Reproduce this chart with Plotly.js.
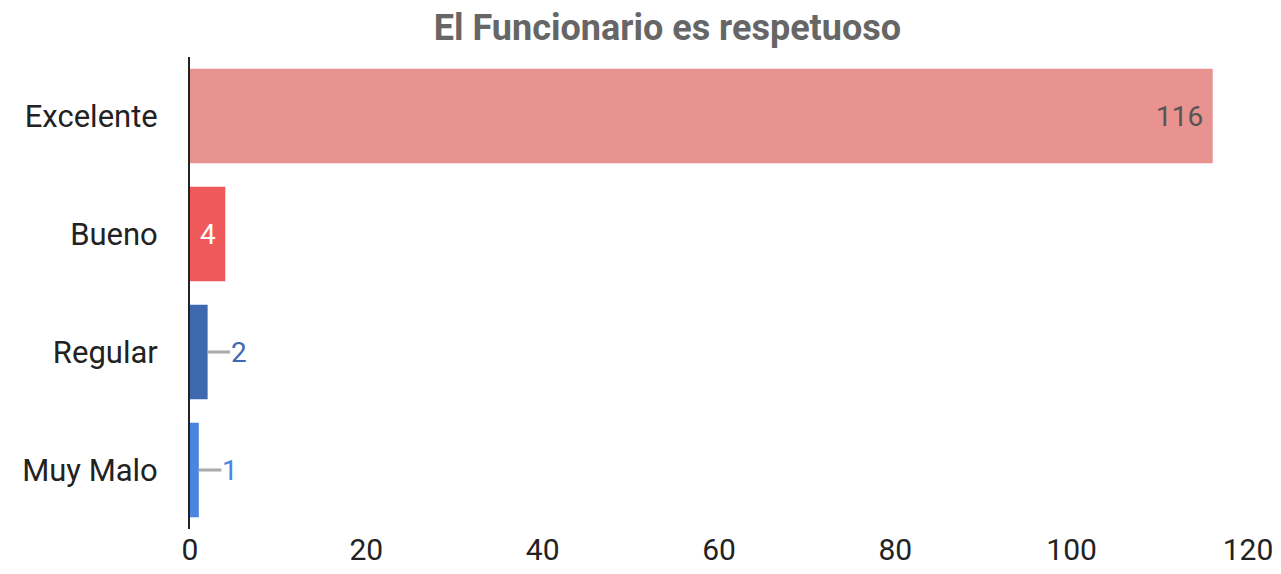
<!DOCTYPE html>
<html>
<head>
<meta charset="utf-8">
<script src="https://cdn.plot.ly/plotly-3.0.1.min.js"></script>
<style>html,body{margin:0;padding:0;background:#fff;}#chart{width:1281px;height:574px;}</style>
</head>
<body>
<div id="chart"></div>
<script>
const categories = ["Excelente", "Bueno", "Regular", "Muy Malo"];
const values = [116, 4, 2, 1];
const barColors = ["#e8938f", "#ef5959", "#3e69b0", "#4a85e0"];
const labelColors = ["#555555", "#ffffff", "#3e69b0", "#4a85e0"];
const labelModes = ["end", "middle", "outside", "outside"];
const xTicks = [0, 20, 40, 60, 80, 100, 120];

const trace = {
  type: "bar",
  orientation: "h",
  y: categories,
  x: values,
  marker: { color: barColors },
  hoverinfo: "none",
  cliponaxis: false
};

const annotations = [];
values.forEach((v, i) => {
  const font = { family: "Roboto", size: 28, color: labelColors[i] };
  if (labelModes[i] === "end") {
    annotations.push({ x: v, y: categories[i], xref: "x", yref: "y", text: String(v),
      showarrow: false, xanchor: "right", xshift: -8, font: font });
  } else if (labelModes[i] === "middle") {
    annotations.push({ x: v / 2, y: categories[i], xref: "x", yref: "y", text: String(v),
      showarrow: false, xanchor: "center", font: font });
  } else {
    annotations.push({ x: v, y: categories[i], xref: "x", yref: "y", text: String(v),
      showarrow: true, arrowhead: 0, arrowwidth: 3, arrowcolor: "#aaaaaa",
      ax: 31, ay: 0, standoff: 0, startstandoff: 0, borderpad: 0, font: font });
  }
});

const layout = {
  width: 1281, height: 574,
  margin: { l: 190, r: 33, t: 57, b: 45, pad: 0 },
  paper_bgcolor: "#ffffff", plot_bgcolor: "#ffffff",
  title: {
    text: "<b>El Funcionario es respetuoso</b>",
    font: { family: "Roboto", size: 36, color: "#666666" },
    x: 0.521, xanchor: "center", xref: "container",
    y: 0.952, yanchor: "middle", yref: "container"
  },
  bargap: 0.2,
  showlegend: false,
  xaxis: {
    range: [0, 120], tickvals: xTicks, ticktext: xTicks.map(String),
    showgrid: false, zeroline: false, showline: false, ticks: "",
    tickfont: { family: "Roboto", size: 30, color: "#222222" },
    fixedrange: true
  },
  yaxis: {
    autorange: "reversed", showgrid: false, zeroline: false,
    showline: true, linecolor: "#222222", linewidth: 2,
    ticks: "", ticklabelstandoff: 24,
    tickfont: { family: "Roboto", size: 31, color: "#222222" },
    fixedrange: true
  },
  annotations: annotations,
  font: { family: "Roboto" }
};

Plotly.newPlot("chart", [trace], layout, { displayModeBar: false, staticPlot: true });
</script>
</body>
</html>
